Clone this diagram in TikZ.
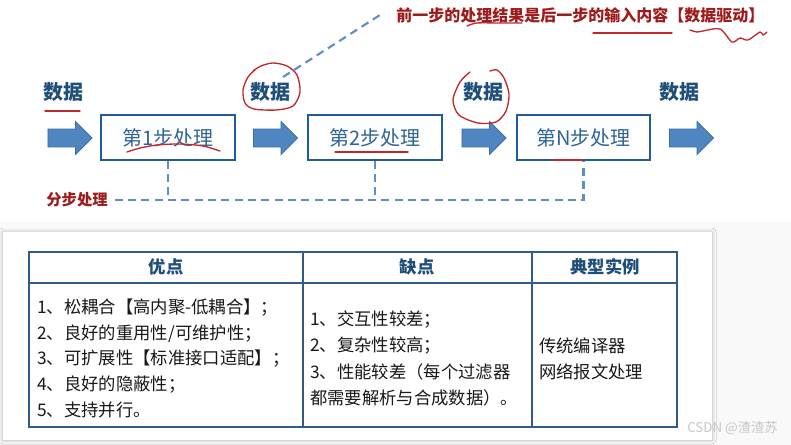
\documentclass[tikz,border=0pt]{standalone}
\usepackage{fontspec}
\setmainfont{Noto Sans CJK SC}
\usetikzlibrary{positioning,shapes.arrows,shadows.blur}
\definecolor{boxblue}{HTML}{1F5C99}
\definecolor{stagetext}{HTML}{2F6497}
\definecolor{labelblue}{HTML}{1F4E79}
\definecolor{arrowfill}{HTML}{4F86C2}
\definecolor{arrowedge}{HTML}{3A6EA5}
\definecolor{dashblue}{HTML}{5B8FC7}
\definecolor{markred}{HTML}{C0282D}
\definecolor{notered}{HTML}{9E1B1B}
\definecolor{tableline}{HTML}{2F5C8A}
\tikzset{
  stagebox/.style={draw=boxblue, line width=1.5pt, minimum width=100pt, minimum height=33.5pt,
    inner sep=0pt, text=stagetext, font=\fontsize{15}{18}\selectfont},
  dataarrow/.style={single arrow, draw=arrowedge, fill=arrowfill, line width=0.6pt,
    minimum height=33pt, minimum width=24pt, single arrow head extend=5.6pt,
    inner xsep=0pt, inner ysep=6.4pt, text height=0pt, text depth=0pt, text width=0pt},
  datalabel/.style={font=\bfseries\fontsize{15}{18}\selectfont, text=labelblue, inner sep=0pt},
  dashline/.style={dash pattern=on 6pt off 4pt, line width=1.6pt, color=dashblue},
  redmark/.style={draw=markred, line width=1pt, line cap=round, line join=round},
  notetext/.style={font=\bfseries\fontsize{12}{14}\selectfont, text=notered, inner sep=0pt},
  headcell/.style={font=\bfseries\fontsize{13}{16}\selectfont, text=labelblue, inner sep=0pt},
  cell/.style={font=\fontsize{13}{16}\selectfont, anchor=west, inner sep=0pt, text=black!90},
}
\begin{document}
\begin{tikzpicture}[x=0.75pt, y=-0.75pt]
  \useasboundingbox (0,0) rectangle (791,445);
  % background of the lower half and the white panel
  \fill[gray!5] (0,222) rectangle (791,445);
  \fill[white, blur shadow={shadow blur steps=6, shadow xshift=0pt, shadow yshift=0pt,
    shadow blur radius=3pt, shadow opacity=25}] (3,232) rectangle (712,440);

  % pipeline
  \node[dataarrow] (in)  at (65.5,138) {};
  \node[stagebox]  (s1)  at (168,137.5) {第1步处理};
  \node[dataarrow] (a12) at (271,138) {};
  \node[stagebox]  (s2)  at (375,137.5) {第2步处理};
  \node[dataarrow] (a2n) at (479.5,138) {};
  \node[stagebox]  (sn)  at (583.5,137.5) {第N步处理};
  \node[dataarrow] (out) at (687,138) {};

  \node[datalabel] (d0) at (63.5,92) {数据};
  \node[datalabel] (d1) at (270,92) {数据};
  \node[datalabel] (d2) at (483,92) {数据};
  \node[datalabel] (d3) at (679,92) {数据};

  % step processing
  \node[notetext, font=\bfseries\fontsize{11.5}{14}\selectfont] (split) at (77,200) {分步处理};
  \coordinate (splitend) at (sn.south |- split);
  \draw[dashline] ([xshift=5pt]split.east) -- (splitend) -- (sn.south);
  \draw[dashline] (s1.south) -- (s1.south |- split);
  \draw[dashline] (s2.south) -- (s2.south |- split);

  % data driven note
  \node[notetext, anchor=west] (note) at (396,15) {前一步的处理结果是后一步的输入内容【数据驱动】};
  \coordinate (loop) at (283,77);
  \draw[dashline] (loop) -- ([xshift=-12pt]note.west);

  % hand drawn marks
  \draw[redmark] (45,111) -- (80,111);
  \draw[redmark] plot[smooth] coordinates {(256,69) (248,77) (243,90) (245,103) (254,109) (276,110)
    (293,106) (300,92) (297,75) (287,66) (273,63) (261,66) (253,71)};
  \draw[redmark] plot[smooth] coordinates {(470,72) (460,82) (453,100) (459,115) (478,123) (496,122)
    (506,111) (509,94) (504,78) (497,70) (490,71)};
  \draw[redmark] plot[smooth] coordinates {(127,152) (140,148) (157,145) (180,144) (203,146) (220,151)};
  \draw[redmark] (335,152) -- (408,152);
  \draw[redmark, line width=1.8pt] (553,160) -- (582,160);
  \draw[redmark] plot[smooth] coordinates {(467,26) (477,23) (500,23) (522,23)};
  \draw[redmark] (593,33) -- (672,33);
  \draw[redmark] plot[smooth] coordinates {(690,30) (697,32) (703,31) (720,29) (732,42) (740,38)
    (748,40) (760,32) (763,35) (767,32)};

  % comparison table
  \draw[tableline, line width=1.1pt] (29,252) rectangle (677,427);
  \draw[tableline, line width=1.1pt] (29,283) -- (677,283);
  \draw[tableline, line width=1.1pt] (303,252) -- (303,427);
  \draw[tableline, line width=1.1pt] (532,252) -- (532,427);
  \node[headcell] (hpro) at (166,267) {优点};
  \node[headcell] (hcon) at (417,267) {缺点};
  \node[headcell] (hex)  at (605,267) {典型实例};

  \node[cell] (p1) at (37,308) {1、松耦合【高内聚-低耦合】；};
  \node[cell] (p2) at (37,333.5) {2、良好的重用性/可维护性；};
  \node[cell] (p3) at (37,359) {3、可扩展性【标准接口适配】；};
  \node[cell] (p4) at (37,384.5) {4、良好的隐蔽性；};
  \node[cell] (p5) at (37,410) {5、支持并行。};

  \node[cell] (c1) at (310,320) {1、交互性较差；};
  \node[cell] (c2) at (310,346) {2、复杂性较高；};
  \node[cell] (c3) at (310,372) {3、性能较差（每个过滤器};
  \node[cell] (c4) at (310,398) {都需要解析与合成数据）。};

  \node[cell] (e1) at (539,346) {传统编译器};
  \node[cell] (e2) at (539,372) {网络报文处理};

  \node[anchor=west, inner sep=0pt, text=gray!45, font=\fontsize{10}{12}\selectfont] (mark) at (687,428) {CSDN @渣渣苏};
\end{tikzpicture}
\end{document}
